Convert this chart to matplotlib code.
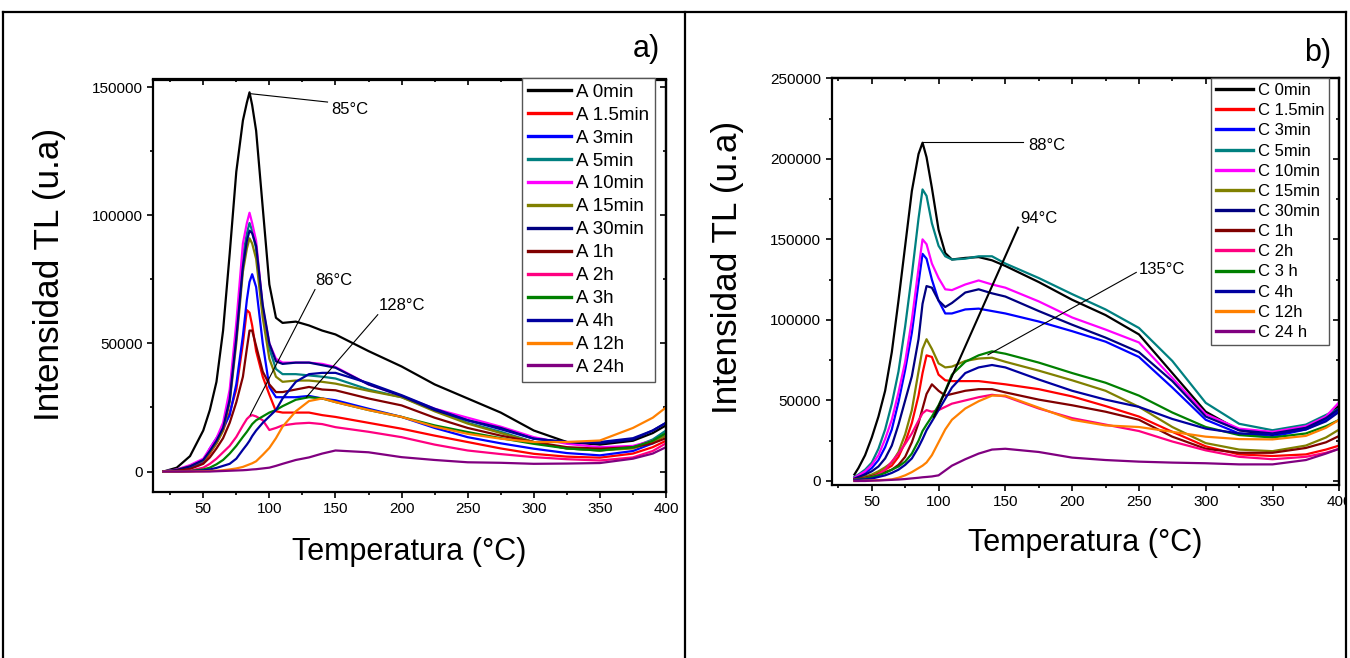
import matplotlib
matplotlib.use('Agg')
import matplotlib.pyplot as plt
from matplotlib.ticker import MultipleLocator
from matplotlib.lines import Line2D
from matplotlib.patches import Rectangle

plt.rcParams['font.family'] = ['Liberation Sans', 'DejaVu Sans']

# ---- panel a) : series A, temperature (°C) and intensity (x1000 u.a.) ----
temp_a = [20, 30, 40, 50, 55, 60, 65, 70, 75, 80, 83, 85, 87, 90, 95, 100, 105, 110,
          120, 130, 140, 150, 175, 200, 225, 250, 275, 300, 325, 350, 375, 390, 400]

a_0min = [0, 1.5, 6, 16, 24, 35, 55, 85, 117, 137, 144, 148, 143, 133, 103, 73, 60, 58,
          58.5, 57, 55, 53.5, 47, 41, 34, 28.5, 23, 16, 11.5, 10.5, 12, 15, 18]
a_1_5min = [0, 0.4, 1.2, 3.5, 7, 11, 16, 23, 32, 50, 63, 62, 57, 47, 37, 30, 23.5, 23,
            23, 23, 22, 21.3, 19, 16.7, 14, 11.5, 9, 6.9, 5.8, 5.4, 7, 9.5, 12]
a_3min = [0, 0.5, 1.5, 4, 9, 13, 17, 22, 34, 53, 67, 74, 77, 72, 50, 33, 29, 29,
          29, 29.5, 28.5, 27.8, 24.5, 21.3, 17, 13.4, 11, 8.9, 7.2, 6.3, 8, 11, 15]
a_5min = [0, 0.7, 2.2, 4.5, 8, 12, 17, 29, 55, 84, 93, 97, 94, 87, 63, 48, 40, 38,
          38, 37.5, 37, 36.3, 32, 29, 24, 19, 15.5, 11.5, 9, 8.2, 9.5, 12.5, 16]
a_10min = [0, 0.8, 2.5, 5, 9, 13, 19, 32, 58, 89, 97, 101, 97, 90, 64, 50, 44, 42.5,
           42.5, 42.5, 42, 40.8, 34, 29.5, 24.5, 21, 17.5, 13.4, 10.8, 9.5, 10, 12, 14]
a_15min = [0, 0.6, 2, 4.2, 7.5, 11, 16, 27, 50, 78, 87, 91, 89, 83, 60, 44, 37, 35,
           35.5, 35.5, 35, 34.3, 31.5, 29, 23.5, 18.7, 15, 11.5, 9, 8.2, 9, 11.5, 14]
a_30min = [0, 0.6, 2, 4.5, 8, 12, 17, 28, 52, 80, 90, 94, 93, 88, 65, 50, 43, 42,
           42.5, 42.5, 41.5, 40.5, 34, 29.5, 24, 20, 17, 12.8, 11.5, 11, 12.5, 16, 19]
a_1h = [0, 0.3, 1, 3, 5.5, 9, 13, 19, 27, 37, 48, 55, 55, 49, 39, 34, 31, 31,
        32, 33, 32, 31.7, 28.5, 25.8, 21, 17, 14, 11.5, 9.5, 8.9, 9.5, 11, 13]
a_2h = [0, 0, 0.3, 1.5, 3, 5, 7.5, 10, 13.5, 18, 20.5, 21.5, 22, 21.5, 20, 16.2, 17, 18,
        18.7, 19, 18.5, 17.3, 15.5, 13.4, 10.5, 8.2, 6.8, 5.6, 4.8, 4.3, 5.5, 8, 11]
a_3h = [0, 0, 0.2, 0.8, 1.5, 2.8, 4.5, 7, 10, 13.5, 15.5, 17, 18.5, 20, 21.5, 23, 24, 25.5,
        28, 29, 28.5, 27.1, 24, 21.3, 18, 15.4, 13, 10.8, 9, 8.2, 9.5, 12, 15]
a_4h = [0, 0, 0.1, 0.4, 0.8, 1.4, 2.2, 3, 5, 8.5, 10.5, 12, 13.8, 16, 19, 21.5, 24, 28.5,
        35, 38, 38.5, 38.5, 34.5, 29.8, 24.5, 20, 16.5, 12.8, 11.5, 11.5, 13, 16, 19]
a_12h = [0, 0, 0, 0.1, 0.2, 0.3, 0.5, 0.8, 1.2, 1.8, 2.4, 2.8, 3.2, 4, 6.5, 9.2, 13, 17.5,
         23.5, 27.5, 28.5, 27.1, 24, 21.3, 17.5, 14.7, 12.8, 11.5, 11.5, 12.1, 17, 21, 25]
a_24h = [0, 0, 0, 0, 0, 0.1, 0.2, 0.3, 0.4, 0.5, 0.6, 0.7, 0.8, 0.9, 1.2, 1.5, 2.2, 3,
         4.5, 5.5, 7, 8.2, 7.5, 5.6, 4.5, 3.6, 3.4, 3, 3.1, 3.3, 5, 7, 9.5]

labels_a = ['A 0min', 'A 1.5min', 'A 3min', 'A 5min', 'A 10min', 'A 15min', 'A 30min',
            'A 1h', 'A 2h', 'A 3h', 'A 4h', 'A 12h', 'A 24h']
series_a = [a_0min, a_1_5min, a_3min, a_5min, a_10min, a_15min, a_30min,
            a_1h, a_2h, a_3h, a_4h, a_12h, a_24h]

# ---- panel b) : series C ----
temp_c = [37, 40, 45, 50, 55, 60, 65, 70, 75, 80, 85, 88, 91, 95, 100, 105, 110,
          120, 130, 140, 150, 175, 200, 225, 250, 275, 300, 325, 350, 375, 390, 400]

c_0min = [4, 8, 16, 27, 40, 56, 80, 112, 146, 180, 203, 210, 201, 182, 156, 141.5, 137.5,
          138.5, 139, 137, 133.5, 123.5, 112.5, 103, 91, 67, 43, 31.5, 28.5, 33, 40, 47]
c_1_5min = [1.2, 1.6, 2.5, 3.5, 5, 7, 9.5, 15, 24, 36, 53, 67, 78, 77, 66, 62.5, 62,
            62, 62, 61, 60, 57, 52.5, 46.5, 40, 30.5, 21.5, 16.5, 15.5, 16.5, 19.5, 22]
c_3min = [1.8, 3, 5, 8, 13, 21, 32, 49, 69, 92, 123, 141, 138, 125, 112, 104, 104,
          106.5, 107, 105.5, 104, 99, 93, 86.5, 77, 58, 38, 29.5, 27.5, 32, 38, 44]
c_5min = [2.5, 4, 7, 11.4, 20, 32, 48, 68, 96, 128, 163, 181, 177, 160, 146, 139.5, 137.5,
          138, 139.5, 139.5, 135, 126, 116, 106.5, 95, 74.5, 48.5, 35.5, 31.5, 35, 41, 45]
c_10min = [2, 3.5, 6, 10, 16, 26, 38, 55, 74, 100, 132, 150, 147, 135, 126, 119, 118.5,
           122, 124.5, 122, 120, 111.5, 101.5, 94, 86, 64, 41.5, 32.5, 30.5, 34, 40, 49]
c_15min = [1.2, 1.8, 2.8, 4, 6, 8.5, 11.4, 18, 29, 44, 68, 82, 88, 82, 73, 70.5, 71,
           74.5, 76, 76.5, 74, 68.5, 62.5, 56, 46, 33.5, 23.5, 19.5, 18.5, 22, 27, 32]
c_30min = [1.5, 2.5, 4, 6, 9, 14, 22, 35, 50, 65, 88, 110, 121, 120, 112, 108, 110.5,
           117, 119, 116.5, 114.5, 105.5, 97, 89, 80, 62, 40, 31.5, 29.5, 33, 39, 45]
c_1h = [1, 1.3, 2, 3, 4, 5.5, 7, 10, 15, 24, 36, 45, 54, 60, 56, 53, 54,
        56, 57, 57, 55, 50.5, 47, 43, 38, 27.5, 20, 17.5, 17.5, 20.5, 24, 28]
c_2h = [0.8, 1, 1.5, 2.5, 4, 7, 12, 17, 23, 29.5, 37.5, 42, 44, 43, 44, 46, 48,
        50, 52, 53.5, 52.5, 45, 39, 35, 31, 24.5, 19, 15, 13.5, 15, 17.5, 20]
c_3h = [0.8, 1, 1.5, 2.5, 3.5, 5, 7, 9, 12, 17, 25, 31, 35, 40, 47, 56, 66,
        74, 78, 80.5, 79, 73.5, 67, 61, 53, 42.5, 33.5, 28.5, 27, 29.5, 34, 38]
c_4h = [0.5, 0.7, 1, 1.5, 2.5, 3.5, 5, 7, 10, 14, 21, 26, 31.5, 37, 44, 51, 58,
        67, 70.5, 72, 70.5, 63, 56, 50.5, 46, 38.5, 32.5, 29.5, 29, 32, 37, 43]
c_12h = [0, 0, 0.2, 0.3, 0.5, 0.7, 1, 2, 3.5, 5.5, 8, 9.5, 11.5, 16, 24, 32, 38,
         45, 49.5, 53, 53, 45.5, 38, 34.5, 33.5, 30.5, 27.5, 26, 25.8, 28, 33, 38]
c_24h = [0, 0, 0, 0.2, 0.3, 0.5, 0.7, 0.9, 1.2, 1.6, 2, 2.3, 2.5, 2.8, 3.5, 6.5, 9.5,
         13.5, 17, 19.5, 20, 18, 14.5, 13, 12, 11.4, 11, 10.3, 10.3, 13, 17, 20]

labels_c = ['C 0min', 'C 1.5min', 'C 3min', 'C 5min', 'C 10min', 'C 15min', 'C 30min',
            'C 1h', 'C 2h', 'C 3 h', 'C 4h', 'C 12h', 'C 24 h']
series_c = [c_0min, c_1_5min, c_3min, c_5min, c_10min, c_15min, c_30min,
            c_1h, c_2h, c_3h, c_4h, c_12h, c_24h]

colors = ['#000000', '#FF0000', '#0000FF', '#008080', '#FF00FF', '#808000', '#000080',
          '#800000', '#FF0080', '#008000', '#0000A0', '#FF8000', '#800080']

W, H = 1350, 658
fig = plt.figure(figsize=(W / 100, H / 100), dpi=100)


def fx(px):
    return px / W


def fy(py):
    return 1 - py / H


def style_axes(ax, xlim, ylim, ymajor):
    ax.set_xlim(*xlim)
    ax.set_ylim(*ylim)
    ax.xaxis.set_major_locator(MultipleLocator(50))
    ax.xaxis.set_minor_locator(MultipleLocator(25))
    ax.yaxis.set_major_locator(MultipleLocator(ymajor))
    ax.yaxis.set_minor_locator(MultipleLocator(ymajor / 2))
    ax.ticklabel_format(style='plain', axis='y', useOffset=False)
    ax.tick_params(which='both', direction='out', width=1.2, labelsize=11, pad=3)
    ax.tick_params(which='major', length=4.5)
    ax.tick_params(which='minor', length=2.5)
    for sp in ax.spines.values():
        sp.set_linewidth(1.6)
    top = ax.secondary_xaxis('top')
    top.xaxis.set_major_locator(MultipleLocator(50))
    top.xaxis.set_minor_locator(MultipleLocator(25))
    top.tick_params(which='both', direction='in', labeltop=False, width=1.2)
    top.tick_params(which='major', length=4.5)
    top.tick_params(which='minor', length=2.5)
    right = ax.secondary_yaxis('right')
    right.yaxis.set_major_locator(MultipleLocator(ymajor))
    right.yaxis.set_minor_locator(MultipleLocator(ymajor / 2))
    right.tick_params(which='both', direction='in', labelright=False, width=1.2)
    right.tick_params(which='major', length=4.5)
    right.tick_params(which='minor', length=2.5)
    for s in (top, right):
        for sp in s.spines.values():
            sp.set_linewidth(1.6)


def draw_panel(ax, temps, series, labels, legend_xy, legend_fs, legend_ls, handle_len):
    for vals, lab, col in zip(series, labels, colors):
        ax.plot(temps, [v * 1000 for v in vals], color=col, lw=1.6, label=lab)
    leg = ax.legend(loc='upper left', bbox_to_anchor=legend_xy, bbox_transform=fig.transFigure,
                    fontsize=legend_fs, handlelength=handle_len, handletextpad=0.3,
                    labelspacing=legend_ls, borderpad=0.3, borderaxespad=0,
                    fancybox=False, framealpha=1, edgecolor='#555555')
    leg.get_frame().set_linewidth(1.0)
    for ln in leg.get_lines():
        ln.set_linewidth(2.4)
    ax.set_xlabel('Temperatura (°C)', fontsize=22)
    ax.set_ylabel('Intensidad TL (u.a)', fontsize=25.3)


# panel a
ax1 = fig.add_axes([fx(153), fy(492), fx(666 - 153), (492 - 79.5) / H])
draw_panel(ax1, temp_a, series_a, labels_a, (fx(522), fy(78)), 13.5, 0.31, 2.3)
style_axes(ax1, (12, 400), (-8000, 153000), 50000)
ax1.xaxis.set_label_coords(0.499, -0.108)
ax1.yaxis.set_label_coords(-0.17, 0.528)

ax1.plot([85, 144], [147500, 144200], color='k', lw=0.8)
ax1.text(147, 141400, '85°C', fontsize=12, va='center')
ax1.plot([85.5, 134.5], [22000, 71000], color='k', lw=0.8)
ax1.text(135, 71500, '86°C', fontsize=12, va='bottom')
ax1.plot([128, 182], [29000, 61200], color='k', lw=0.8)
ax1.text(182.5, 61700, '128°C', fontsize=12, va='bottom')

# panel b
ax2 = fig.add_axes([fx(831.7), fy(485), fx(1339.3 - 831.7), (485 - 78.3) / H])
draw_panel(ax2, temp_c, series_c, labels_c, (fx(1211), fy(78)), 12, 0.31, 2.2)
style_axes(ax2, (20, 400), (-2500, 250000), 50000)
ax2.xaxis.set_label_coords(0.499, -0.105)
ax2.yaxis.set_label_coords(-0.172, 0.534)

ax2.plot([88, 163], [210500, 210500], color='k', lw=0.8)
ax2.text(167, 208500, '88°C', fontsize=12, va='center')
ax2.plot([96.5, 159.5], [39700, 157300], color='k', lw=1.5)
ax2.text(161, 158500, '94°C', fontsize=12, va='bottom')
ax2.plot([137, 248], [78300, 129500], color='k', lw=0.8)
ax2.text(250, 131500, '135°C', fontsize=12, va='center')

# panel tags
fig.text(fx(660), fy(49), 'a)', fontsize=22, ha='right', va='center')
fig.text(fx(1331), fy(53), 'b)', fontsize=22, ha='right', va='center')

# table borders around the two panels
fig.add_artist(Rectangle((fx(1347), 0), fx(3), 1, transform=fig.transFigure,
                         facecolor='white', edgecolor='none', zorder=10))
for xs, ys in [((fx(3), fx(1346)), (fy(12), fy(12))),
               ((fx(3), fx(3)), (0, fy(12))),
               ((fx(685), fx(685)), (0, fy(12))),
               ((fx(1345.5), fx(1345.5)), (0, fy(12)))]:
    fig.add_artist(Line2D(xs, ys, transform=fig.transFigure, color='k', lw=1.6, zorder=11))

fig.savefig('out.png', dpi=100)
